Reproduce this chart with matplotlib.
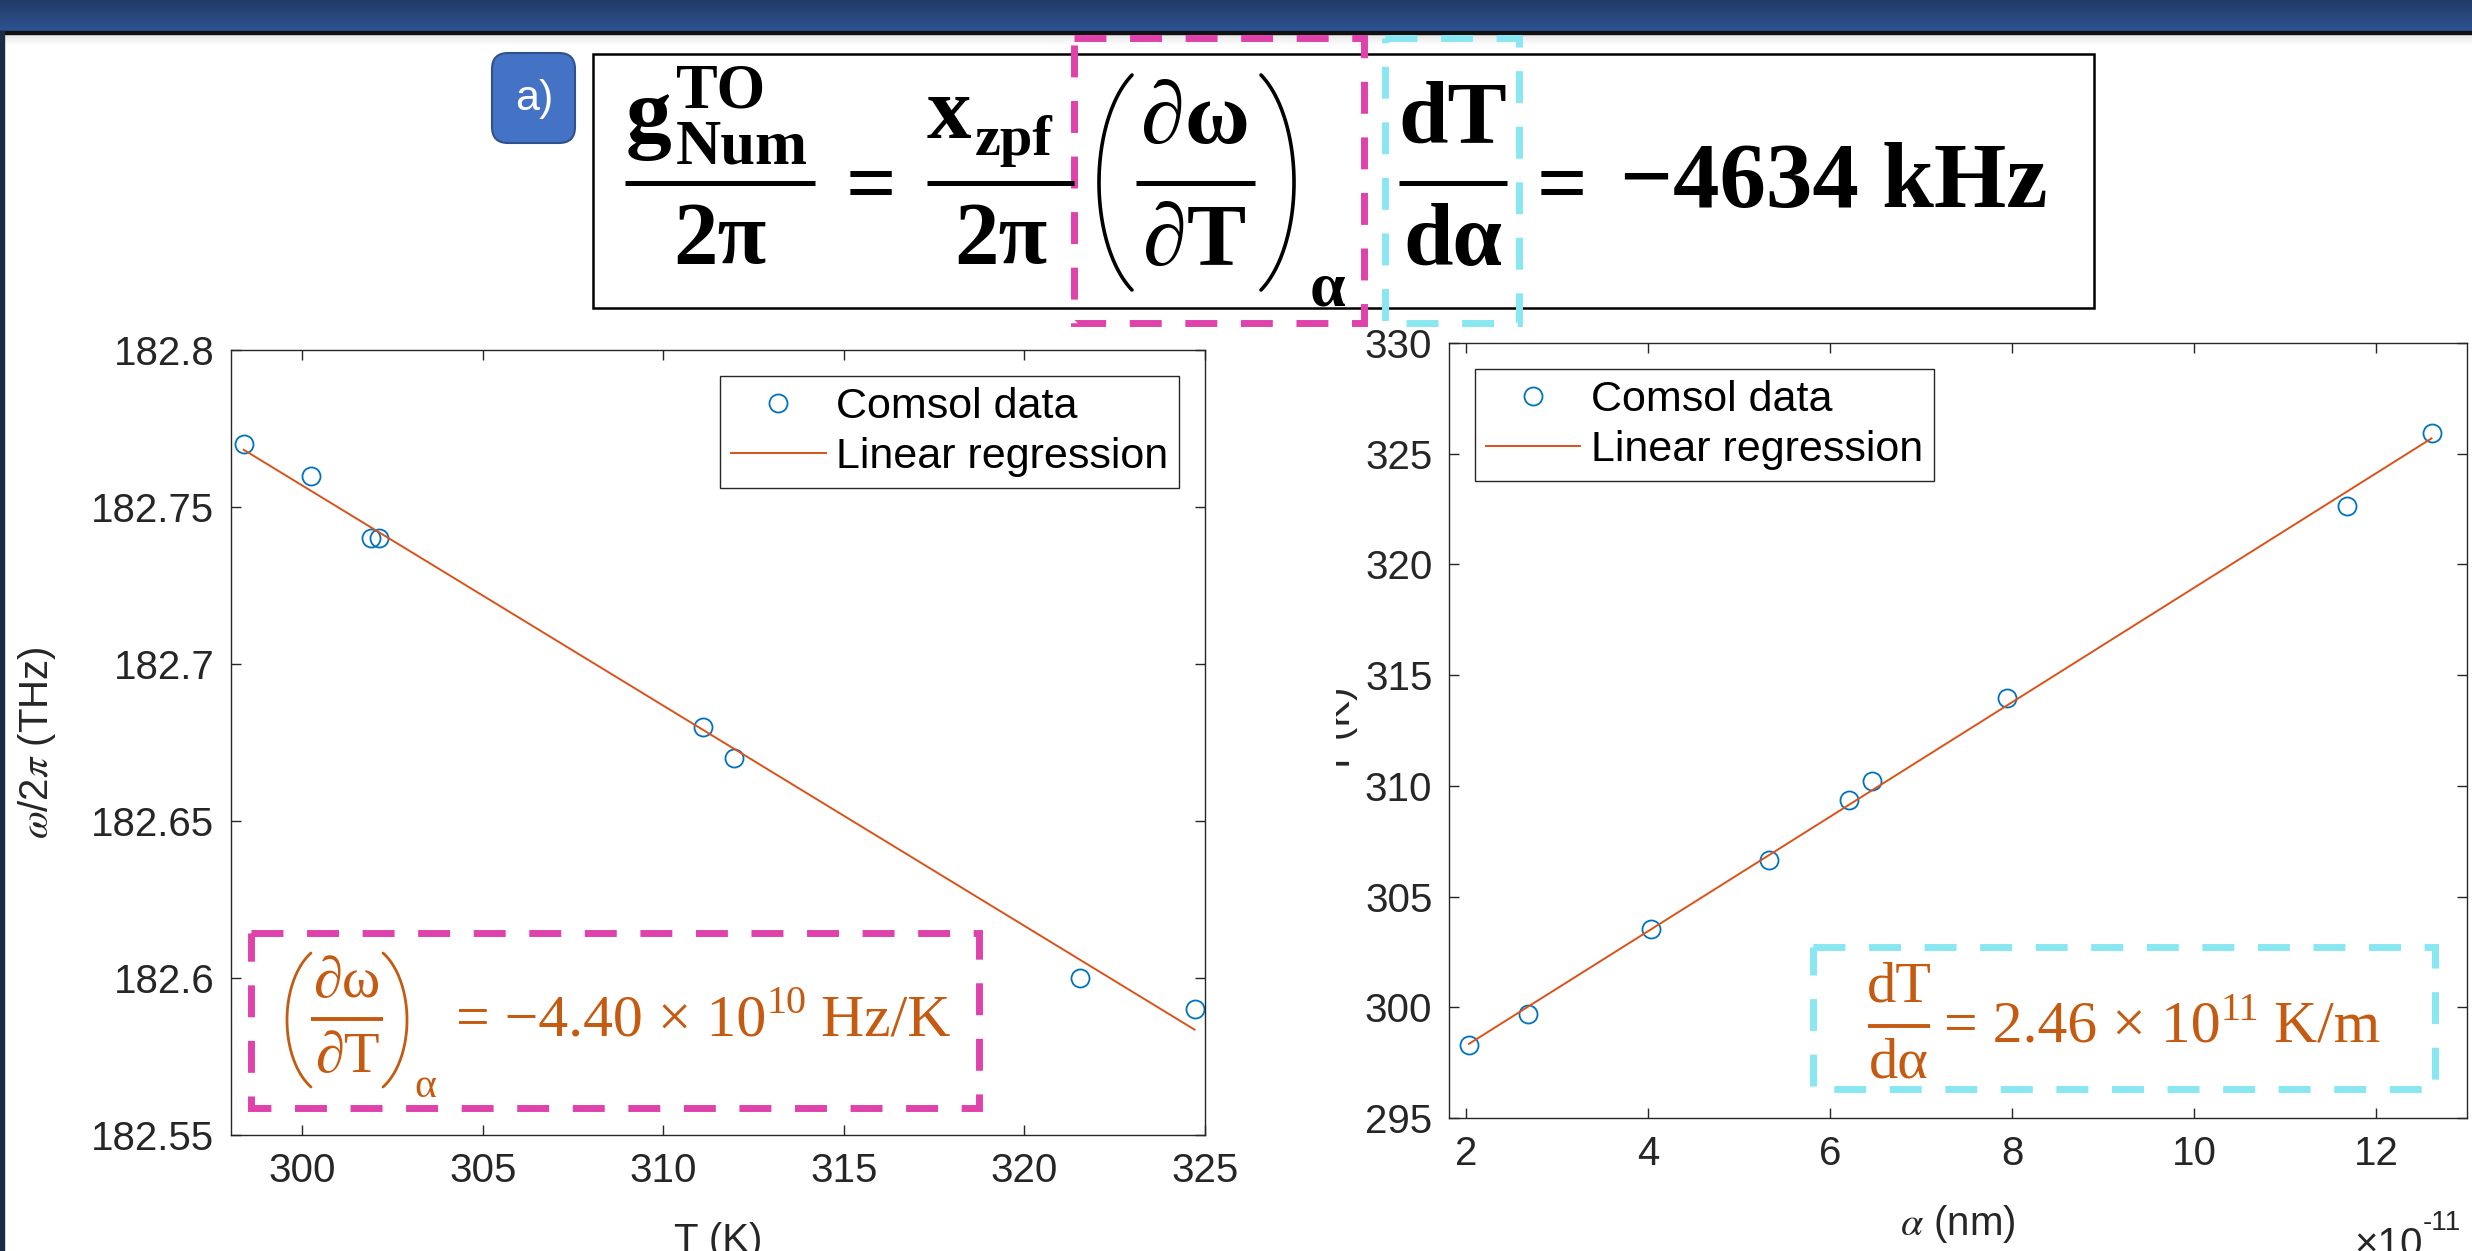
import numpy as np
import matplotlib
matplotlib.use("Agg")
import matplotlib.pyplot as plt
from matplotlib.patches import Rectangle, FancyBboxPatch
from matplotlib.ticker import FuncFormatter

# left panel: optical resonance vs temperature (Comsol)
temp_k = [298.38, 300.24, 301.90, 302.14, 311.11, 311.97, 321.55, 324.71]
freq_thz = [182.77, 182.76, 182.74, 182.74, 182.68, 182.67, 182.60, 182.59]
temp_ticks = [300, 305, 310, 315, 320, 325]
freq_ticks = [182.55, 182.6, 182.65, 182.7, 182.75, 182.8]

# right panel: temperature vs displacement, alpha in units of 1e-11 m
alpha_e11 = [2.03, 2.68, 4.03, 5.33, 6.21, 6.46, 7.94, 11.68, 12.61]
temp2_k = [298.31, 299.70, 303.55, 306.66, 309.37, 310.23, 313.96, 322.63, 325.92]
alpha_ticks = [2, 4, 6, 8, 10, 12]
temp2_ticks = [295, 300, 305, 310, 315, 320, 325, 330]

legend_labels = ["Comsol data", "Linear regression"]

W, H = 2472, 1251
BLUE = "#0072BD"
ORANGE = "#D95319"
TXT_OR = "#C55A11"
PINK = "#DF43AB"
CYAN = "#88E7F1"
INK = "#262626"

plt.rcParams["font.family"] = ["Liberation Sans", "DejaVu Sans"]

fig = plt.figure(figsize=(W / 100, H / 100), dpi=100, facecolor="white")


def px_box(x0, y0, x1, y1):
    return [x0 / W, 1 - y1 / H, (x1 - x0) / W, (y1 - y0) / H]


# slide chrome underneath everything
bg = fig.add_axes([0, 0, 1, 1], zorder=-5)
bg.axis("off")
top = np.array([0x22, 0x3B, 0x66]) / 255
bot = np.array([0x2D, 0x53, 0x93]) / 255
s = np.linspace(0, 1, 32)[:, None, None]
band = top * (1 - s) + bot * s
band = np.repeat(band, 2, axis=1)
bg.imshow(band, extent=(0, W, 31, 0), aspect="auto", interpolation="bilinear")
shade = np.linspace(0.9, 1.0, 12)[:, None, None] * np.ones((1, 2, 3))
bg.imshow(shade, extent=(0, W, 46, 34), aspect="auto", interpolation="bilinear")
bg.add_patch(Rectangle((0, 31), W, 3, color="#111111"))
bg.add_patch(Rectangle((0, 31), 4, H, color="#1C2A48"))
bg.set_xlim(0, W)
bg.set_ylim(H, 0)

ax1 = fig.add_axes(px_box(231, 350, 1205, 1135))
ax2 = fig.add_axes(px_box(1449, 343, 2467, 1118))


def panel(ax, x, y):
    x = np.asarray(x, float)
    y = np.asarray(y, float)
    ax.plot(x, y, "o", mfc="none", mec=BLUE, ms=13, mew=1.3, label=legend_labels[0])
    k, b = np.polyfit(x, y, 1)
    xx = np.array([x.min(), x.max()])
    ax.plot(xx, k * xx + b, "-", color=ORANGE, lw=1.4, label=legend_labels[1])
    ax.tick_params(direction="in", length=7, width=1, top=True, right=True,
                   labelsize=29, pad=12, colors=INK)
    for sp in ax.spines.values():
        sp.set_color(INK)
        sp.set_linewidth(1.0)


panel(ax1, temp_k, freq_thz)
ax1.set_xlim(298.03, 325.0)
ax1.set_ylim(182.55, 182.8)
ax1.set_xticks(temp_ticks)
ax1.set_yticks(freq_ticks)
ax1.yaxis.set_major_formatter(FuncFormatter(lambda v, p: f"{v:g}"))
ax1.set_xlabel("T (K)", fontsize=29, labelpad=23, color=INK)
ax1.set_ylabel(r"$\omega$/2$\pi$ (THz)", fontsize=29, labelpad=24, color=INK,
               math_fontfamily="stix")

panel(ax2, alpha_e11, temp2_k)
ax2.set_xlim(1.81, 13.0)
ax2.set_ylim(295, 330)
ax2.set_xticks(alpha_ticks)
ax2.set_yticks(temp2_ticks)
ax2.set_xlabel(r"$\alpha$ (nm)", fontsize=29, labelpad=22, color=INK,
               math_fontfamily="stix")
ax2.set_ylabel("T (K)", fontsize=29, labelpad=5, color=INK)

for ax, loc in ((ax1, "upper right"), (ax2, "upper left")):
    leg = ax.legend(loc=loc, fontsize=31, frameon=True, fancybox=False, framealpha=1,
                    edgecolor=INK, borderaxespad=0.6, handlelength=2.2,
                    handletextpad=0.25, borderpad=0.25, labelspacing=0.25)
    leg.get_frame().set_linewidth(1.0)

# overlay in pixel coordinates (y down) for the slide annotations
ov = fig.add_axes([0, 0, 1, 1], zorder=5)
ov.set_xlim(0, W)
ov.set_ylim(H, 0)
ov.axis("off")
ov.patch.set_alpha(0)
renderer = fig.canvas.get_renderer()

SERIF = ["Liberation Serif", "DejaVu Serif"]


def txt(x, y, s, size, **kw):
    kw.setdefault("va", "baseline")
    return ov.text(x, y, s, fontsize=size, zorder=4, **kw)


def bar(x0, x1, y, lw, color="black"):
    ov.plot([x0, x1], [y, y], color=color, lw=lw, solid_capstyle="butt", zorder=4)


def paren(x0, x1, y0, y1, left, lw, color):
    ang = np.deg2rad(62)
    t = np.linspace(-ang, ang, 80)
    a = (x1 - x0) / (1 - np.cos(ang))
    b = (y1 - y0) / 2 / np.sin(ang)
    cy = (y0 + y1) / 2
    xs = x0 + a * (1 - np.cos(t)) if left else x1 - a * (1 - np.cos(t))
    ov.plot(xs, cy + b * np.sin(t), color=color, lw=lw, solid_capstyle="round", zorder=4)


def chain(x, y, parts, **kw):
    for s_, size, dy in parts:
        t = txt(x, y + dy, s_, size, **kw)
        x = t.get_window_extent(renderer).x1


def dashed(x0, y0, x1, y1, color):
    ov.add_patch(Rectangle((x0, y0), x1 - x0, y1 - y0, fill=False, ec=color, lw=5,
                           linestyle=(0, (4.6, 3.4)), zorder=3))


# hide most of the right-hand y label, as on the slide
ov.add_patch(Rectangle((1212, 600), 124, 260, fc="white", ec="none", zorder=1))

# "a)" tag
ov.add_patch(FancyBboxPatch((492, 53), 83, 90, boxstyle="round,pad=0,rounding_size=16",
                            fc="#4472C4", ec="#2F528F", lw=1.5, zorder=2))
txt(534, 99, "a)", 31, ha="center", va="center", color="white")

# equation box
ov.add_patch(Rectangle((593, 54), 1501, 254, fc="white", ec="black", lw=1.8, zorder=1))
SB = dict(family=SERIF, weight="bold", color="black")
txt(626, 142, "g", 66, **SB)
txt(676, 108, "TO", 45, **SB)
txt(676, 163, "Num", 45, **SB)
bar(625, 815, 183, 3.6)
txt(720, 263, "2π", 64, ha="center", **SB)
txt(871, 213, "=", 64, ha="center", **SB)
txt(927, 138, "x", 64, **SB)
txt(975, 155, "zpf", 42, **SB)
bar(927, 1074, 183, 3.6)
txt(1001, 263, "2π", 64, ha="center", **SB)
paren(1099, 1132, 75, 290, True, 2.6, "black")
paren(1261, 1294, 75, 290, False, 2.6, "black")
txt(1195, 143, "∂ω", 64, ha="center", **SB)
bar(1136, 1255, 183, 3.6)
txt(1195, 265, "∂T", 64, ha="center", **SB)
txt(1327, 305, "α", 46, ha="center", **SB)
txt(1453, 143, "dT", 64, ha="center", **SB)
bar(1399, 1507, 183, 3.6)
txt(1453, 265, "dα", 64, ha="center", **SB)
txt(1562, 213, "=", 64, ha="center", **SB)
txt(1620, 207, "−4634 kHz", 67, **SB)
dashed(1074, 38, 1364, 323, PINK)
dashed(1385, 38, 1519, 323, CYAN)

# slope annotations inside the panels
OR = dict(family=SERIF, color=TXT_OR)
paren(287, 311, 953, 1087, True, 2.0, TXT_OR)
paren(383, 407, 953, 1087, False, 2.0, TXT_OR)
txt(347, 997, "∂ω", 42, ha="center", **OR)
bar(311, 383, 1019, 2.8, TXT_OR)
txt(347, 1072, "∂T", 42, ha="center", **OR)
txt(425, 1097, "α", 30, ha="center", **OR)
chain(456, 1035, [("= −4.40 × 10", 43, 0), ("10", 29, -22), (" Hz/K", 43, 0)], **OR)
dashed(251, 933, 979, 1108, PINK)

txt(1899, 1002, "dT", 42, ha="center", **OR)
bar(1868, 1930, 1026, 2.8, TXT_OR)
txt(1899, 1077, "dα", 42, ha="center", **OR)
chain(1944, 1042, [("= 2.46 × 10", 43, 0), ("11", 29, -22), (" K/m", 43, 0)], **OR)
dashed(1813, 947, 2435, 1089, CYAN)

# MATLAB-style exponent under the right axis
chain(2354, 1256, [("×10", 29, 0), ("-11", 20, -26)], color=INK)

fig.savefig("out.png", dpi=100, facecolor="white")
